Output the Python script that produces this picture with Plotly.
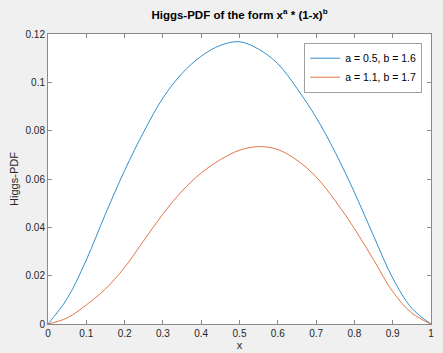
import plotly.graph_objects as go

x_vals = [0, 0.05, 0.1, 0.15, 0.2, 0.25, 0.3, 0.35, 0.4, 0.45, 0.5,
          0.55, 0.6, 0.65, 0.7, 0.75, 0.8, 0.85, 0.9, 0.95, 1.0]
blue_vals = [0, 0.0105, 0.0265, 0.0455, 0.0635, 0.0795, 0.0935, 0.1037, 0.1108, 0.1153, 0.1168,
             0.1137, 0.1077, 0.0975, 0.0855, 0.071, 0.0545, 0.0365, 0.019, 0.0065, 0]
orange_vals = [0, 0.0025, 0.0079, 0.0145, 0.0234, 0.0345, 0.0455, 0.055, 0.0625, 0.068, 0.0719,
               0.0734, 0.0722, 0.0678, 0.0609, 0.051, 0.0395, 0.0266, 0.0134, 0.0045, 0]
series_names = ["a = 0.5, b = 1.6", "a = 1.1, b = 1.7"]
x_ticks = [0, 0.1, 0.2, 0.3, 0.4, 0.5, 0.6, 0.7, 0.8, 0.9, 1]
x_tick_labels = ["0", "0.1", "0.2", "0.3", "0.4", "0.5", "0.6", "0.7", "0.8", "0.9", "1"]
y_ticks = [0, 0.02, 0.04, 0.06, 0.08, 0.1, 0.12]
y_tick_labels = ["0", "0.02", "0.04", "0.06", "0.08", "0.1", "0.12"]

FONT = "Liberation Sans, Arial, sans-serif"

fig = go.Figure()
fig.add_trace(go.Scatter(x=x_vals, y=blue_vals, mode="lines", name=series_names[0],
                         line=dict(color="#0072BD", width=0.8, shape="spline", smoothing=1.0)))
fig.add_trace(go.Scatter(x=x_vals, y=orange_vals, mode="lines", name=series_names[1],
                         line=dict(color="#D95319", width=0.8, shape="spline", smoothing=1.0)))

axis_common = dict(showline=True, linecolor="#8a8a8a", linewidth=1, mirror="ticks",
                   ticks="inside", ticklen=4, tickcolor="#8a8a8a", showgrid=False,
                   zeroline=False, automargin=False,
                   tickfont=dict(family=FONT, size=10, color="#262626"))

fig.update_layout(
    width=443, height=353,
    margin=dict(l=48, r=12, t=34, b=29),
    paper_bgcolor="#f0f0f0", plot_bgcolor="white",
    title=dict(text="<b>Higgs-PDF of the form x<sup>a</sup> * (1-x)<sup>b</sup></b>",
               x=0.5 + (48 - 12) / 2 / 443, xanchor="center", y=0.957, yanchor="middle",
               font=dict(family=FONT, size=11.5, color="#000000")),
    xaxis=dict(range=[0, 1], tickvals=x_ticks, ticktext=x_tick_labels,
               title=dict(text="x", font=dict(family=FONT, size=11, color="#262626"), standoff=2),
               **axis_common),
    yaxis=dict(range=[0, 0.12], tickvals=y_ticks, ticktext=y_tick_labels,
               title=dict(text="Higgs-PDF", font=dict(family=FONT, size=11, color="#262626"), standoff=4),
               **axis_common),
    legend=dict(x=0.977, y=0.97, xanchor="right", yanchor="top",
                bgcolor="white", bordercolor="#a0a0a0", borderwidth=1,
                font=dict(family=FONT, size=10.5, color="#000000"),
                itemwidth=30, tracegroupgap=0),
    showlegend=True,
)

fig.write_html("out.html", config={"displayModeBar": False},
               post_script="document.body.style.margin='0';document.body.style.overflow='hidden';")
